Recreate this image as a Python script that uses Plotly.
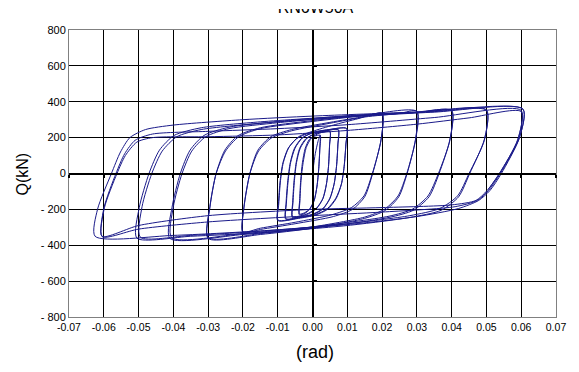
import plotly.graph_objects as go

# Drift-angle ticks (rad) and shear-force ticks (kN)
x_ticks = [-0.07, -0.06, -0.05, -0.04, -0.03, -0.02, -0.01, 0.0,
           0.01, 0.02, 0.03, 0.04, 0.05, 0.06, 0.07]
x_labels = ["-0.07", "-0.06", "-0.05", "-0.04", "-0.03", "-0.02", "-0.01", "0.00",
            "0.01", "0.02", "0.03", "0.04", "0.05", "0.06", "0.07"]
q_ticks = [800, 600, 400, 200, 0, -200, -400, -600, -800]
q_labels = ["800", "600", "400", "200", "0", "- 200", "- 400", "- 600", "- 800"]

# Small-amplitude cycles (two cycles per amplitude)
cyc_a_x = [0.0000, 0.0008, 0.0016, 0.0022,
           0.0021, 0.0018, 0.0013, 0.0005, -0.0008, -0.0022, -0.0038,
           -0.0037, -0.0034, -0.0029, -0.0021, -0.0009, 0.0006, 0.0022,
           0.0021, 0.0018, 0.0013, 0.0005, -0.0008, -0.0022, -0.0037,
           -0.0036, -0.0033, -0.0027, -0.0018, -0.0002, 0.0020, 0.0050]
cyc_a_q = [0, 110, 180, 215,
           140, 30, -70, -150, -200, -222, -230,
           -150, -40, 60, 140, 190, 208, 213,
           135, 28, -70, -148, -196, -218, -226,
           -150, -40, 60, 145, 200, 225, 235]

cyc_b_x = [0.0049, 0.0046, 0.0040, 0.0030, 0.0012, -0.0012, -0.0035, -0.0058,
           -0.0057, -0.0053, -0.0047, -0.0037, -0.0020, 0.0003, 0.0027, 0.0050,
           0.0049, 0.0046, 0.0040, 0.0030, 0.0012, -0.0012, -0.0035, -0.0057,
           -0.0056, -0.0052, -0.0046, -0.0035, -0.0015, 0.0012, 0.0042, 0.0074]
cyc_b_q = [160, 40, -60, -140, -195, -225, -240, -245,
           -160, -40, 60, 140, 192, 218, 229, 233,
           155, 38, -60, -138, -192, -222, -236, -242,
           -160, -40, 60, 142, 198, 225, 239, 245]

cyc_c_x = [0.0073, 0.0069, 0.0062, 0.0050, 0.0030, 0.0000, -0.0040, -0.0077,
           -0.0076, -0.0071, -0.0064, -0.0052, -0.0032, -0.0003, 0.0035, 0.0074,
           0.0073, 0.0069, 0.0062, 0.0050, 0.0030, 0.0000, -0.0040, -0.0076,
           -0.0075, -0.0070, -0.0063, -0.0050, -0.0028, 0.0005, 0.0050, 0.0098]
cyc_c_q = [165, 40, -60, -140, -198, -230, -247, -255,
           -165, -40, 60, 140, 195, 224, 238, 243,
           160, 38, -60, -138, -195, -227, -244, -252,
           -165, -40, 60, 142, 200, 230, 245, 252]

cyc_d_x = [0.0096, 0.0091, 0.0083, 0.0068, 0.0043, 0.0008, -0.0040, -0.0100,
           -0.0098, -0.0093, -0.0085, -0.0070, -0.0045, -0.0010, 0.0040, 0.0098,
           0.0096, 0.0091, 0.0083, 0.0067, 0.0042, 0.0008, -0.0040, -0.0099,
           -0.0097, -0.0092, -0.0084, -0.0068, -0.0040, 0.0000, 0.0060, 0.0130, 0.0200]
cyc_d_q = [165, 40, -60, -140, -200, -232, -250, -262,
           -170, -40, 60, 140, 195, 225, 243, 250,
           160, 38, -60, -138, -197, -229, -247, -260,
           -170, -40, 60, 145, 205, 235, 270, 305, 335]

# Large-amplitude cycles
drift_020_x = [0.0197, 0.0173, 0.0150, 0.0115, 0.0060, -0.0050, -0.0150, -0.0200,
               -0.0197, -0.0180, -0.0157, -0.0120, -0.0060, 0.0050, 0.0150, 0.0200,
               0.0197, 0.0172, 0.0148, 0.0112, 0.0055, -0.0050, -0.0150, -0.0200,
               -0.0197, -0.0180, -0.0155, -0.0118, -0.0060, 0.0050, 0.0150, 0.0250, 0.0300]
drift_020_q = [190, 0, -130, -200, -240, -280, -312, -330,
               -190, 0, 130, 205, 245, 285, 318, 335,
               185, 0, -125, -190, -230, -272, -305, -325,
               -185, 0, 125, 198, 238, 280, 315, 335, 348]

drift_030_x = [0.0296, 0.0272, 0.0248, 0.0210, 0.0150, 0.0000, -0.0150, -0.0300,
               -0.0295, -0.0277, -0.0252, -0.0215, -0.0150, 0.0000, 0.0150, 0.0300,
               0.0296, 0.0271, 0.0246, 0.0208, 0.0150, 0.0000, -0.0150, -0.0300,
               -0.0295, -0.0277, -0.0250, -0.0212, -0.0150, 0.0000, 0.0150, 0.0300, 0.0400]
drift_030_q = [190, 0, -130, -205, -250, -305, -340, -362,
               -190, 0, 130, 210, 255, 295, 325, 346,
               185, 0, -125, -198, -243, -298, -335, -358,
               -185, 0, 125, 205, 250, 290, 322, 340, 352]

drift_040_x = [0.0395, 0.0364, 0.0335, 0.0290, 0.0220, 0.0000, -0.0200, -0.0410,
               -0.0404, -0.0380, -0.0352, -0.0312, -0.0240, -0.0100, 0.0100, 0.0300, 0.0400,
               0.0395, 0.0362, 0.0332, 0.0288, 0.0220, 0.0000, -0.0200, -0.0405,
               -0.0400, -0.0375, -0.0347, -0.0307, -0.0240, -0.0100, 0.0100, 0.0300, 0.0500]
drift_040_q = [190, 0, -130, -205, -245, -305, -340, -362,
               -190, 0, 130, 212, 258, 290, 322, 343, 350,
               185, 0, -125, -198, -238, -298, -335, -358,
               -185, 0, 125, 205, 250, 283, 318, 340, 355]

drift_050_x = [0.0494, 0.0452, 0.0420, 0.0370, 0.0280, 0.0100, -0.0150, -0.0350, -0.0505,
               -0.0498, -0.0470, -0.0440, -0.0398, -0.0320, -0.0150, 0.0100, 0.0350, 0.0500,
               0.0494, 0.0450, 0.0417, 0.0366, 0.0280, 0.0100, -0.0150, -0.0350, -0.0495,
               -0.0490, -0.0462, -0.0432, -0.0390, -0.0320, -0.0150, 0.0100, 0.0350, 0.0605]
drift_050_q = [190, 0, -130, -205, -245, -290, -330, -350, -360,
               -190, 0, 130, 212, 255, 288, 320, 345, 352,
               185, 0, -125, -195, -235, -280, -322, -345, -355,
               -185, 0, 125, 205, 245, 280, 315, 342, 360]

drift_060_x = [0.0595, 0.0543, 0.0510, 0.0478, 0.0420, 0.0300, 0.0100, -0.0150, -0.0400, -0.0625,
               -0.0618, -0.0578, -0.0552, -0.0525, -0.0480, -0.0400, -0.0200, 0.0000, 0.0300, 0.0605,
               0.0594, 0.0540, 0.0506, 0.0474, 0.0410, 0.0200, 0.0000, -0.0300, -0.0500, -0.0605,
               -0.0600, -0.0565, -0.0540, -0.0510, -0.0460, -0.0300, -0.0100, 0.0100, 0.0350, 0.0600,
               0.0590, 0.0538, 0.0502, 0.0470, 0.0400, 0.0200, 0.0000, -0.0300, -0.0500, -0.0605,
               -0.0598, -0.0562, -0.0538, -0.0505, -0.0460, -0.0300, -0.0100, 0.0100, 0.0300, 0.0450, 0.0600,
               0.0590, 0.0537, 0.0505]
drift_060_q = [200, 0, -95, -150, -195, -240, -285, -320, -345, -350,
               -200, 0, 120, 200, 245, 270, 300, 320, 342, 358,
               195, 0, -95, -150, -185, -215, -235, -270, -310, -352,
               -195, 0, 110, 185, 220, 235, 250, 272, 312, 352,
               190, 0, -95, -150, -175, -190, -200, -235, -290, -350,
               -190, 0, 100, 175, 200, 205, 215, 240, 275, 310, 345,
               185, 0, -90]

drift = (cyc_a_x + cyc_b_x + cyc_c_x + cyc_d_x + drift_020_x + drift_030_x
         + drift_040_x + drift_050_x + drift_060_x)
shear = (cyc_a_q + cyc_b_q + cyc_c_q + cyc_d_q + drift_020_q + drift_030_q
         + drift_040_q + drift_050_q + drift_060_q)

title_text = "RN6W50A"

FONT = "Liberation Sans, Arial, sans-serif"
LINE = "#1a1a8a"

# Area above the bottom margin is 317 px tall; the plot frame fills its lower 287 px
AREA_H = 317.0
PLOT_TOP = 30.0

fig = go.Figure()
fig.add_trace(go.Scatter(
    x=drift, y=shear, mode="lines",
    line=dict(color=LINE, width=1, shape="spline", smoothing=0.7),
    hoverinfo="skip",
))

# heading in a thin strip of its own, which trims the top of the letters
fig.add_trace(go.Scatter(
    x=[0.506], y=[0.92], mode="text", text=[title_text],
    textposition="middle center", cliponaxis=True,
    textfont=dict(size=16, family=FONT, color="black"),
    xaxis="x3", yaxis="y3", hoverinfo="skip",
))

fig.add_trace(go.Scatter(x=[None], y=[None], xaxis="x2", yaxis="y2", showlegend=False))

fig.update_layout(
    width=579, height=372,
    margin=dict(l=69, r=23, t=0, b=55, pad=0, autoexpand=False),
    paper_bgcolor="white", plot_bgcolor="white",
    showlegend=False,
    font=dict(family=FONT, color="black"),
    xaxis=dict(
        range=[-0.07, 0.07], tickmode="array", tickvals=x_ticks, ticktext=x_labels,
        showgrid=True, gridcolor="black", gridwidth=1, automargin=False,
        showline=True, linecolor="#808080", linewidth=1, mirror=True,
        zeroline=False, ticks="", tickfont=dict(size=10.5, family=FONT),
    ),
    yaxis=dict(
        domain=[0, (AREA_H - PLOT_TOP) / AREA_H], automargin=False,
        range=[-800, 800], tickmode="array", tickvals=q_ticks, ticktext=q_labels,
        showgrid=True, gridcolor="black", gridwidth=1,
        showline=True, linecolor="#808080", linewidth=1, mirror=True,
        zeroline=False, ticks="", tickfont=dict(size=11, family=FONT),
    ),
    # axes through the origin, with short tick marks
    xaxis2=dict(
        overlaying="x", anchor="free", position=0.5 * (AREA_H - PLOT_TOP) / AREA_H,
        range=[-0.07, 0.07], automargin=False,
        tickmode="array", tickvals=x_ticks, showticklabels=False,
        showgrid=False, zeroline=False, showline=True, linecolor="black", linewidth=2,
        ticks="outside", ticklen=3, tickwidth=2, tickcolor="black",
    ),
    yaxis2=dict(
        overlaying="y", anchor="free", position=0.5, range=[-800, 800], automargin=False,
        tickmode="array", tickvals=q_ticks, showticklabels=False,
        showgrid=False, zeroline=False, showline=True, linecolor="black", linewidth=2,
        ticks="inside", ticklen=3, tickwidth=2, tickcolor="black",
    ),
    xaxis3=dict(domain=[0, 1], range=[0, 1], anchor="y3", visible=False, automargin=False),
    yaxis3=dict(domain=[(AREA_H - 15) / AREA_H, (AREA_H - 9) / AREA_H],
                range=[0, 1], anchor="x3", visible=False, automargin=False),
)

fig.add_annotation(text="Q(kN)", xref="paper", yref="paper", x=-0.0945,
                   y=(AREA_H - 173.5) / AREA_H,
                   xanchor="center", yanchor="middle",
                   textangle=-90, showarrow=False, font=dict(size=16, family=FONT))
fig.add_annotation(text="(rad)", xref="paper", yref="paper", x=0.506,
                   y=(AREA_H - 352) / AREA_H,
                   xanchor="center", yanchor="middle",
                   showarrow=False, font=dict(size=18, family=FONT))

fig.write_html("out.html")
